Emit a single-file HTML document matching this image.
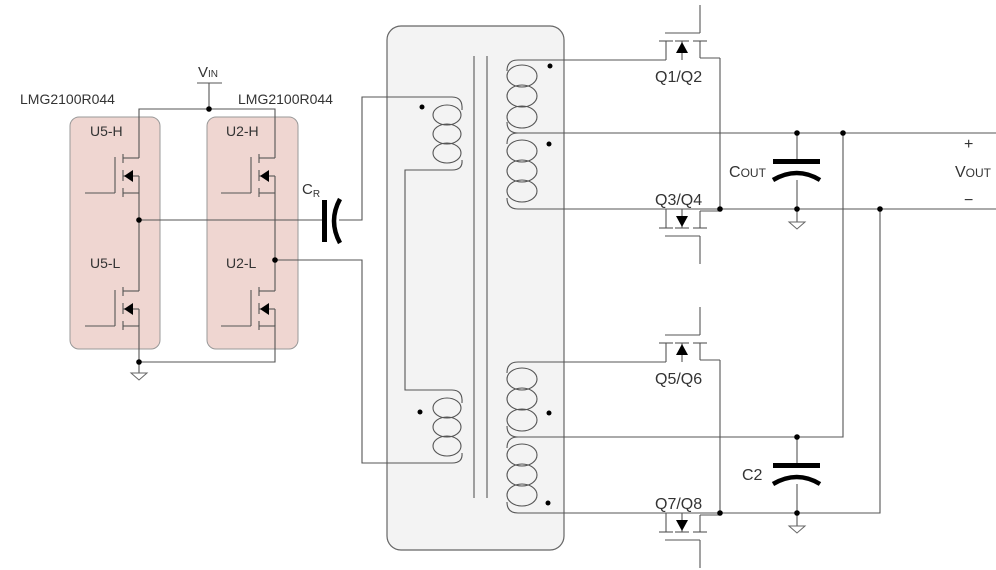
<!DOCTYPE html>
<html><head><meta charset="utf-8"><style>
html,body{margin:0;padding:0;background:#fff;width:996px;height:570px;overflow:hidden}
svg{display:block}
text{font-family:"Liberation Sans","DejaVu Sans",sans-serif;fill:#333}
</style></head><body>
<svg width="996" height="570" viewBox="0 0 996 570" xmlns="http://www.w3.org/2000/svg">
<defs>
<g id="lm" fill="none" stroke="#555" stroke-width="1.1">
  <line x1="-16" y1="0" x2="0" y2="0"/>
  <line x1="-16" y1="-4" x2="-16" y2="5"/>
  <line x1="-16" y1="12" x2="-16" y2="23"/>
  <line x1="-16" y1="30" x2="-16" y2="39"/>
  <line x1="-16" y1="35" x2="0" y2="35"/>
  <line x1="-16" y1="18" x2="0" y2="18"/>
  <line x1="0" y1="18" x2="0" y2="35"/>
  <polygon points="-15,18 -6,12 -6,24" fill="#000" stroke="none"/>
  <line x1="-24" y1="-1" x2="-24" y2="35"/>
  <line x1="-54" y1="35" x2="-24" y2="35"/>
</g>
<g id="rm" fill="none" stroke="#555" stroke-width="1.1">
  <line x1="666" y1="41" x2="666" y2="60"/>
  <line x1="682" y1="41" x2="682" y2="60"/>
  <line x1="700" y1="41" x2="700" y2="58"/>
  <line x1="659" y1="41" x2="673" y2="41"/>
  <line x1="675" y1="41" x2="689" y2="41"/>
  <line x1="693" y1="41" x2="707" y2="41"/>
  <line x1="665" y1="33" x2="700" y2="33"/>
  <line x1="700" y1="33" x2="700" y2="5"/>
  <line x1="700" y1="58" x2="720" y2="58"/>
  <polygon points="682,42 676,53 688,53" fill="#000" stroke="none"/>
</g>
<g id="gnd" fill="none" stroke="#666" stroke-width="1"><polygon points="-8,0 8,0 0,7"/></g>
</defs>

<rect x="70" y="117" width="90" height="232" rx="9" fill="#efd6d1" stroke="#999"/>
<rect x="207" y="117" width="91" height="232" rx="9" fill="#efd6d1" stroke="#999"/>
<rect x="387" y="26" width="177" height="524" rx="14" fill="#f3f3f3" stroke="#666" stroke-width="1.2"/>
<line x1="474" y1="56" x2="474" y2="498" stroke="#666" stroke-width="1.2"/>
<line x1="487" y1="56" x2="487" y2="498" stroke="#666" stroke-width="1.2"/>

<g fill="none" stroke="#555" stroke-width="1.1">
<polyline points="139,158 139,109 275,109 275,158"/>
<polyline points="209,109 209,83"/><line x1="197" y1="83" x2="222" y2="83"/>
<line x1="139" y1="193" x2="139" y2="291"/>
<line x1="275" y1="193" x2="275" y2="291"/>
<polyline points="139,325 139,362 275,362 275,325"/>
<line x1="139" y1="362" x2="139" y2="373"/>
<line x1="139" y1="220" x2="322" y2="220"/>
<polyline points="339,220 362,220 362,97 452,97"/>
<polyline points="275,260 362,260 362,463 452,463"/>
<polyline points="452,170 405,170 405,390 452,390"/>
<path d="M452 97 Q463 97 462 110"/><path d="M462 160 Q463 170 452 170"/>
<ellipse cx="447" cy="115" rx="14" ry="10"/><ellipse cx="447" cy="134" rx="14" ry="10"/><ellipse cx="447" cy="153" rx="14" ry="10"/>
<path d="M452 390 Q463 390 462 403"/><path d="M462 453 Q463 463 452 463"/>
<ellipse cx="447" cy="408" rx="14" ry="10"/><ellipse cx="447" cy="427" rx="14" ry="10"/><ellipse cx="447" cy="446" rx="14" ry="10"/>
<path d="M518 60 Q507 60 507 71"/><path d="M507 122 Q507 133 518 133"/>
<ellipse cx="522" cy="76" rx="15" ry="11"/><ellipse cx="522" cy="96" rx="15" ry="11"/><ellipse cx="522" cy="117" rx="15" ry="11"/>
<path d="M507 144 Q507 133 518 133"/><path d="M507 198 Q507 209 518 209"/>
<ellipse cx="522" cy="151" rx="15" ry="11"/><ellipse cx="522" cy="171" rx="15" ry="11"/><ellipse cx="522" cy="191" rx="15" ry="11"/>
<path d="M518 362 Q507 362 507 373"/><path d="M507 426 Q507 437 518 437"/>
<ellipse cx="522" cy="379" rx="15" ry="11"/><ellipse cx="522" cy="399" rx="15" ry="11"/><ellipse cx="522" cy="420" rx="15" ry="11"/>
<path d="M507 448 Q507 437 518 437"/><path d="M507 502 Q507 513 518 513"/>
<ellipse cx="522" cy="455" rx="15" ry="11"/><ellipse cx="522" cy="475" rx="15" ry="11"/><ellipse cx="522" cy="495" rx="15" ry="11"/>
<line x1="518" y1="60" x2="666" y2="60"/>
<line x1="518" y1="133" x2="996" y2="133"/>
<line x1="518" y1="209" x2="996" y2="209"/>
<line x1="720" y1="58" x2="720" y2="209"/>
<line x1="518" y1="362" x2="666" y2="362"/>
<polyline points="518,437 843,437 843,133"/>
<polyline points="518,513 880,513 880,209"/>
<line x1="720" y1="360" x2="720" y2="513"/>
<line x1="797" y1="133" x2="797" y2="160"/>
<line x1="797" y1="180" x2="797" y2="222"/>
<line x1="797" y1="437" x2="797" y2="464"/>
<line x1="797" y1="484" x2="797" y2="526"/>
</g>

<use href="#lm" x="139" y="158"/><use href="#lm" x="139" y="291"/>
<use href="#lm" x="275" y="158"/><use href="#lm" x="275" y="291"/>
<use href="#rm"/>
<g transform="translate(0,269) scale(1,-1)"><use href="#rm"/></g>
<g transform="translate(0,302)"><use href="#rm"/></g>
<g transform="translate(0,573) scale(1,-1)"><use href="#rm"/></g>

<use href="#gnd" x="139" y="373"/>
<use href="#gnd" x="797" y="222"/>
<use href="#gnd" x="797" y="526"/>

<rect x="322" y="200" width="5" height="42" fill="#000"/>
<path d="M340 199 Q328 221 340 243" fill="none" stroke="#000" stroke-width="4.5"/>
<rect x="773" y="159" width="47" height="5" fill="#000"/>
<path d="M773 180 Q797 166 820 180" fill="none" stroke="#000" stroke-width="4.5"/>
<rect x="773" y="463" width="47" height="5" fill="#000"/>
<path d="M773 484 Q797 470 820 484" fill="none" stroke="#000" stroke-width="4.5"/>

<g fill="#000">
<circle cx="209" cy="109" r="2.8"/><circle cx="139" cy="220" r="2.8"/><circle cx="275" cy="260" r="2.8"/><circle cx="139" cy="362" r="2.8"/>
<circle cx="422" cy="107" r="2.5"/><circle cx="420" cy="412" r="2.5"/>
<circle cx="550" cy="66" r="2.5"/><circle cx="549" cy="144" r="2.5"/><circle cx="549" cy="413" r="2.5"/><circle cx="548" cy="503" r="2.5"/>
<circle cx="720" cy="209" r="2.8"/><circle cx="797" cy="209" r="2.8"/><circle cx="797" cy="133" r="2.8"/><circle cx="843" cy="133" r="2.8"/><circle cx="880" cy="209" r="2.8"/>
<circle cx="720" cy="513" r="2.8"/><circle cx="797" cy="513" r="2.8"/><circle cx="797" cy="437" r="2.8"/>
</g>

<g font-size="14">
<text x="20" y="104">LMG2100R044</text>
<text x="238" y="104">LMG2100R044</text>
<text x="90" y="136">U5-H</text><text x="90" y="268">U5-L</text>
<text x="226" y="136">U2-H</text><text x="226" y="268">U2-L</text>
<text x="198" y="77" font-size="15">V<tspan font-size="10">IN</tspan></text>
<text x="302" y="194" font-size="15">C<tspan font-size="10" dy="3">R</tspan></text>
<g font-size="16">
<text x="655" y="82">Q1/Q2</text>
<text x="655" y="205">Q3/Q4</text>
<text x="655" y="384">Q5/Q6</text>
<text x="655" y="509">Q7/Q8</text>
<text x="729" y="177">C<tspan font-size="12">OUT</tspan></text>
<text x="742" y="480">C2</text>
<text x="955" y="177">V<tspan font-size="12">OUT</tspan></text>
<text x="964" y="149" fill="#666">+</text>
<text x="964" y="205" fill="#666">−</text>
</g>
</g>
</svg>
</body></html>
